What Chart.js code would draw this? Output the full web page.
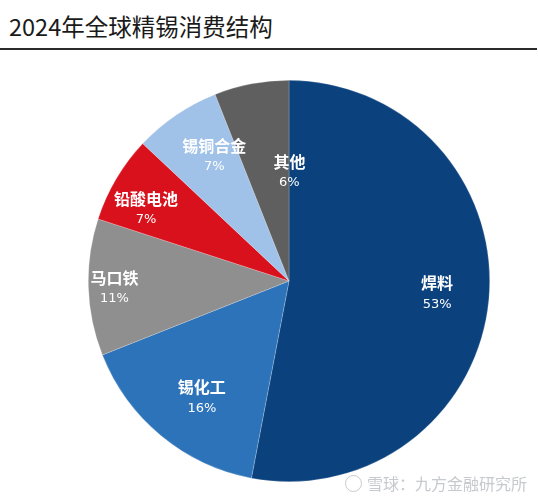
<!DOCTYPE html>
<html>
<head>
<meta charset="utf-8">
<script src="https://cdn.jsdelivr.net/npm/chart.js@4.4.0/dist/chart.umd.min.js"></script>
<style>
  html, body { margin:0; padding:0; background:#fff; }
  body { width:538px; height:500px; position:relative; overflow:hidden; font-family:"Noto Sans CJK SC","Noto Sans",sans-serif; }
  #title { position:absolute; left:9px; top:9px; font-size:23.5px; color:#1a1a1a; white-space:nowrap; }
  #rule { position:absolute; left:0; top:48px; width:537px; height:2px; background:#2a2a2a; }
  #wrap { position:absolute; left:88px; top:80px; width:402px; height:402px; }
  #wm { position:absolute; left:345px; top:471px; font-size:16px; color:#c6c9cd; white-space:nowrap; }
  #wm span.logo { display:inline-block; width:15px; height:15px; border:1.5px solid #c6c9cd; border-radius:50%; vertical-align:-2px; margin-right:5px; }
</style>
</head>
<body>
<div id="title">2024年全球精锡消费结构</div>
<div id="rule"></div>
<div id="wrap"><canvas id="c" width="402" height="402"></canvas></div>
<div id="wm"><span class="logo"></span>雪球：九方金融研究所</div>
<script>
const categories = ["焊料", "锡化工", "马口铁", "铅酸电池", "锡铜合金", "其他"];
const shares = [53, 16, 11, 7, 7, 6];
const percentLabels = ["53%", "16%", "11%", "7%", "7%", "6%"];

const sliceColors = ["#0b427d", "#2d73b9", "#8f8f8f", "#d8111c", "#a0c1e8", "#5f5f5f"];
// label placement (radius fraction, angle shift in degrees)
const labelRadius = [0.74, 0.72, 0.87, 0.80, 0.73, 0.55];
const labelShift = [-1, -2.5, 0, -3.5, 3.5, 11];

const labelPlugin = {
  id: 'sliceLabels',
  afterDatasetsDraw(chart) {
    const ctx = chart.ctx;
    const meta = chart.getDatasetMeta(0);
    meta.data.forEach((arc, i) => {
      const p = arc.getProps(['x','y','startAngle','endAngle','outerRadius'], true);
      const a = (p.startAngle + p.endAngle) / 2 + labelShift[i] * Math.PI / 180;
      const r = p.outerRadius * labelRadius[i];
      const x = p.x + Math.cos(a) * r;
      const y = p.y + Math.sin(a) * r;
      ctx.save();
      ctx.fillStyle = '#ffffff';
      ctx.textAlign = 'center';
      ctx.textBaseline = 'middle';
      ctx.font = 'bold 16px "Noto Sans CJK SC"';
      ctx.fillText(categories[i], x, y - 9);
      ctx.font = '13px "DejaVu Sans"';
      ctx.fillText(percentLabels[i], x, y + 12);
      ctx.restore();
    });
  }
};

new Chart(document.getElementById('c'), {
  type: 'pie',
  data: {
    labels: categories,
    datasets: [{
      data: shares,
      backgroundColor: sliceColors,
      borderColor: 'rgba(255,255,255,0.35)',
      borderWidth: 0.6
    }]
  },
  options: {
    responsive: false,
    animation: false,
    layout: { padding: 0 },
    plugins: { legend: { display: false }, tooltip: { enabled: false } }
  },
  plugins: [labelPlugin]
});
</script>
</body>
</html>
